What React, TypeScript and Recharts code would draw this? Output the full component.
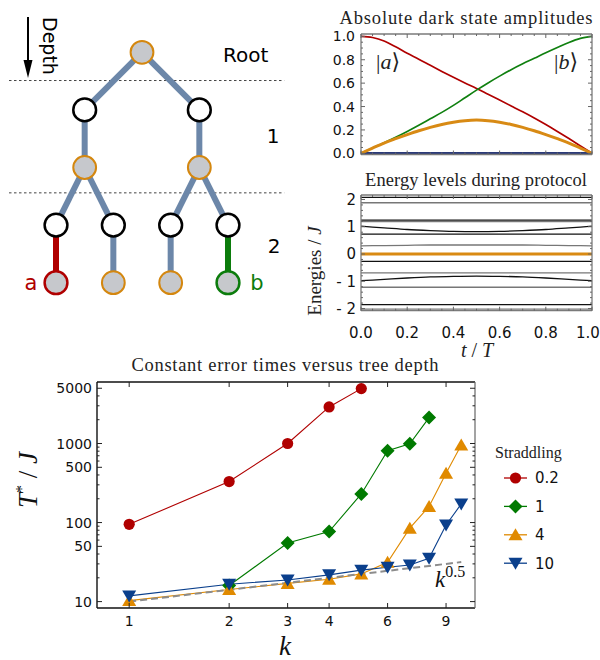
import React from 'react'
import { LineChart, Line, XAxis, YAxis, ScatterChart, Scatter, ReferenceLine } from 'recharts'

// ---------- bottom panel: constant error times vs depth ----------
const depthK = [1, 2, 3, 4, 5, 6, 7, 8, 9, 10]
const time02 = [95, 330, 1000, 2900, 4950, null, null, null, null, null]
const time1 = [null, 16, 55, 77, 230, 810, 990, 2130, null, null]
const time4 = [10.3, 14.2, 17, 19.2, 22.4, 31.5, 85, 160, 420, 960]
const time10 = [11.8, 16.6, 18.8, 21.8, 25, 27.2, 29, 35.4, 93, 172]
const sqrtGuide = [10, 14.1, 17.3, 20, 22.4, 24.5, 26.5, 28.3, 30, 31.6]

const straddleLabels = ['0.2', '1', '4', '10']
const straddleKeys = ['s02', 's1', 's4', 's10']
const straddleColors = ['#b00000', '#007a00', '#e08a00', '#0a3f8c']
const straddleMarkers = ['circle', 'diamond', 'up', 'down']

const kTicks = [1, 2, 3, 4, 6, 9]
const timeLabelTicks = [10, 50, 100, 500, 1000, 5000]
const timeMinorTicks = [20, 30, 40, 60, 70, 80, 90, 200, 300, 400, 600, 700, 800, 900, 2000, 3000, 4000]

// ---------- top right: dark state amplitudes ----------
const protocolT = [0, 0.05, 0.1, 0.15, 0.2, 0.25, 0.3, 0.35, 0.4, 0.45, 0.5, 0.55, 0.6, 0.65, 0.7, 0.75, 0.8, 0.85, 0.9, 0.95, 1]
const ampA = [1.0, 0.99, 0.96, 0.91, 0.855, 0.805, 0.752, 0.7, 0.65, 0.602, 0.555, 0.505, 0.455, 0.405, 0.355, 0.302, 0.246, 0.187, 0.126, 0.063, 0.0]
const ampB = [0, 0.045, 0.09, 0.137, 0.187, 0.24, 0.295, 0.35, 0.41, 0.475, 0.54, 0.602, 0.66, 0.715, 0.765, 0.812, 0.86, 0.905, 0.948, 0.982, 1.0]
const ampMid = [0, 0.045, 0.088, 0.125, 0.16, 0.193, 0.222, 0.247, 0.266, 0.279, 0.284, 0.279, 0.266, 0.247, 0.222, 0.193, 0.16, 0.125, 0.088, 0.045, 0]
const ampRest = [0, 0, 0, 0, 0, 0, 0, 0, 0, 0, 0, 0, 0, 0, 0, 0, 0, 0, 0, 0, 0]
const ampColors = ['#b00000', '#108010', '#d88a14', '#2b3a78']
const ampWidths = [1.7, 1.7, 3, 2.5]

const fineT = [0, 0.05, 0.1, 0.15, 0.2, 0.25, 0.3, 0.35, 0.4, 0.45, 0.5, 0.55, 0.6, 0.65, 0.7, 0.75, 0.8, 0.85, 0.9, 0.95, 1]
const tLabelTicks = [0, 0.2, 0.4, 0.6, 0.8, 1]
const ampTicks = [0, 0.05, 0.1, 0.15, 0.2, 0.25, 0.3, 0.35, 0.4, 0.45, 0.5, 0.55, 0.6, 0.65, 0.7, 0.75, 0.8, 0.85, 0.9, 0.95, 1]
const ampLabelTicks = [0, 0.2, 0.4, 0.6, 0.8, 1]

// ---------- top right: energy levels ----------
const energyT = [0, 0.1, 0.2, 0.3, 0.4, 0.5, 0.6, 0.7, 0.8, 0.9, 1]
const energyLevels = [
  [2.08, 2.08, 2.08, 2.08, 2.08, 2.08, 2.08, 2.08, 2.08, 2.08, 2.08],
  [1.88, 1.88, 1.88, 1.88, 1.88, 1.88, 1.88, 1.88, 1.88, 1.88, 1.88],
  [1.24, 1.24, 1.24, 1.24, 1.24, 1.24, 1.24, 1.24, 1.24, 1.24, 1.24],
  [1.19, 1.19, 1.19, 1.19, 1.19, 1.19, 1.19, 1.19, 1.19, 1.19, 1.19],
  [1.02, 0.96, 0.9, 0.86, 0.83, 0.82, 0.83, 0.86, 0.9, 0.96, 1.02],
  [0.73, 0.73, 0.73, 0.73, 0.73, 0.73, 0.73, 0.73, 0.73, 0.73, 0.73],
  [0.3, 0.31, 0.32, 0.33, 0.33, 0.33, 0.33, 0.33, 0.32, 0.31, 0.3],
  [-0.27, -0.27, -0.27, -0.27, -0.27, -0.27, -0.27, -0.27, -0.27, -0.27, -0.27],
  [-0.69, -0.69, -0.69, -0.69, -0.69, -0.69, -0.69, -0.69, -0.69, -0.69, -0.69],
  [-0.98, -0.93, -0.88, -0.84, -0.82, -0.81, -0.82, -0.84, -0.88, -0.93, -0.98],
  [-1.22, -1.22, -1.22, -1.22, -1.22, -1.22, -1.22, -1.22, -1.22, -1.22, -1.22],
  [-1.86, -1.86, -1.86, -1.86, -1.86, -1.86, -1.86, -1.86, -1.86, -1.86, -1.86],
  [-2.02, -2.02, -2.02, -2.02, -2.02, -2.02, -2.02, -2.02, -2.02, -2.02, -2.02],
]
const darkLevel = [0, 0, 0, 0, 0, 0, 0, 0, 0, 0, 0]
const levelColors = ['#111', '#777', '#111', '#777', '#111', '#111', '#777', '#111', '#777', '#111', '#777', '#111', '#777']
const energyTicks = [-2, -1.8, -1.6, -1.4, -1.2, -1, -0.8, -0.6, -0.4, -0.2, 0, 0.2, 0.4, 0.6, 0.8, 1, 1.2, 1.4, 1.6, 1.8, 2]
const energyLabelTicks = [-2, -1, 0, 1, 2]

// ---------- tree diagram ----------
const treeSlot = [1.5, 0.5, 2.5, 0.5, 2.5, 0, 1, 2, 3, 0, 1, 2, 3]
const treeLevel = [0, 1, 1, 2, 2, 3, 3, 3, 3, 4, 4, 4, 4]
const treeKind = ['hub', 'link', 'link', 'hub', 'hub', 'link', 'link', 'link', 'link', 'a', 'hub', 'hub', 'b']
const treeEdges = [[0, 1], [0, 2], [1, 3], [2, 4], [3, 5], [3, 6], [4, 7], [4, 8], [5, 9], [6, 10], [7, 11], [8, 12]]
const depthBreaks = [0.49, 2.44]

const nodeStyle: Record<string, { fill: string; stroke: string; w: number }> = {
  hub: { fill: '#c6c8cc', stroke: '#d4870f', w: 2 },
  link: { fill: '#ffffff', stroke: '#000000', w: 2.5 },
  a: { fill: '#c6c8cc', stroke: '#b00000', w: 2.5 },
  b: { fill: '#c6c8cc', stroke: '#0c7c0c', w: 2.5 },
}
const edgeColor: Record<string, string> = { hub: '#6c87a9', link: '#6c87a9', a: '#b00000', b: '#0c7c0c' }

const SERIF = '"Liberation Serif", "DejaVu Serif", serif'
const SANS = '"DejaVu Sans", sans-serif'

const mainRows = depthK.map((k, i) => ({
  k,
  s02: time02[i],
  s1: time1[i],
  s4: time4[i],
  s10: time10[i],
  guide: sqrtGuide[i],
}))
const ampRows = protocolT.map((t, i) => ({ t, a: ampA[i], b: ampB[i], m: ampMid[i], z: ampRest[i] }))
const energyRows = energyT.map((t, i) => {
  const row: any = { t, dark: darkLevel[i] }
  energyLevels.forEach((lv, j) => (row['e' + j] = lv[i]))
  return row
})
const treeNodes = treeSlot.map((slot, i) => ({ slot, level: treeLevel[i], kind: treeKind[i] }))

// tick drawn inward from the frame, label optional
const FrameTick = ({ x, y, payload, side, labels, major, fmt, color = '#222', fontSize = 14, gap = 5, len = 5, maxX }: any) => {
  const v = payload.value
  const l = major.includes(v) ? len : len * 0.5
  let x2 = x
  let y2 = y
  if (side === 'left') x2 = x + l
  if (side === 'right') x2 = x - l
  if (side === 'bottom') y2 = y - l
  if (side === 'top') y2 = y + l
  const show = labels.includes(v)
  const txt = fmt ? fmt(v) : String(v)
  const lx = maxX != null ? Math.min(x, maxX) : x
  return (
    <g>
      <line x1={x} y1={y} x2={x2} y2={y2} stroke={color} strokeWidth={1} />
      {show && side === 'left' && (
        <text x={x - gap} y={y} dy="0.36em" textAnchor="end" fontSize={fontSize} fontFamily={SANS} fill="#111">
          {txt}
        </text>
      )}
      {show && side === 'bottom' && (
        <text x={lx} y={y + gap} textAnchor="middle" fontSize={fontSize} fontFamily={SANS} fill="#111">
          {txt}
        </text>
      )}
    </g>
  )
}

const Marker = ({ shape, cx, cy, color }: any) => {
  if (cx == null || cy == null || isNaN(cx) || isNaN(cy)) return <g />
  if (shape === 'circle') return <circle cx={cx} cy={cy} r={5.6} fill={color} />
  if (shape === 'diamond')
    return <polygon points={`${cx},${cy - 7} ${cx + 7},${cy} ${cx},${cy + 7} ${cx - 7},${cy}`} fill={color} />
  if (shape === 'up')
    return <polygon points={`${cx},${cy - 6.5} ${cx + 7},${cy + 5.5} ${cx - 7},${cy + 5.5}`} fill={color} />
  return <polygon points={`${cx},${cy + 6.5} ${cx + 7},${cy - 5.5} ${cx - 7},${cy - 5.5}`} fill={color} />
}

const TreePanel = () => (
  <div style={{ position: 'absolute', left: 0, top: 0, width: 300, height: 300 }}>
    <ScatterChart width={300} height={300} margin={{ top: 0, right: 0, bottom: 0, left: 0 }}>
      <XAxis type="number" dataKey="slot" domain={[-0.977, 4.256]} hide allowDataOverflow />
      <YAxis type="number" dataKey="level" domain={[-0.908, 4.3]} reversed hide allowDataOverflow />
      {depthBreaks.map((b, i) => (
        <ReferenceLine
          key={'br' + i}
          segment={[{ x: -0.82, y: b }, { x: 3.98, y: b }]}
          stroke="#444"
          strokeDasharray="2.5 2.5"
          strokeWidth={1}
        />
      ))}
      {treeEdges.map(([p, c], i) => (
        <ReferenceLine
          key={'ed' + i}
          segment={[
            { x: treeSlot[p], y: treeLevel[p] },
            { x: treeSlot[c], y: treeLevel[c] },
          ]}
          stroke={edgeColor[treeKind[c]]}
          strokeWidth={6}
        />
      ))}
      <Scatter
        data={treeNodes}
        isAnimationActive={false}
        shape={(p: any) => {
          const s = nodeStyle[p.payload.kind]
          return <circle cx={p.cx} cy={p.cy} r={11.4} fill={s.fill} stroke={s.stroke} strokeWidth={s.w} />
        }}
      />
    </ScatterChart>
    <svg width={300} height={300} style={{ position: 'absolute', left: 0, top: 0, pointerEvents: 'none' }}>
      <line x1={28} y1={17} x2={28} y2={64} stroke="#000" strokeWidth={2} />
      <polygon points="23.5,60 32.5,60 28,78" fill="#000" />
      <text transform="translate(43,17) rotate(90)" fontSize={19} fontFamily={SANS} fill="#000">
        Depth
      </text>
      <text x={223} y={62} fontSize={20} fontFamily={SANS} fill="#000">
        Root
      </text>
      <text x={273} y={143} textAnchor="middle" fontSize={20} fontFamily={SANS} fill="#000">
        1
      </text>
      <text x={274} y={253} textAnchor="middle" fontSize={20} fontFamily={SANS} fill="#000">
        2
      </text>
      <text x={31} y={290} textAnchor="middle" fontSize={21} fontFamily={SANS} fill="#b00000">
        a
      </text>
      <text x={257} y={290} textAnchor="middle" fontSize={21} fontFamily={SANS} fill="#0c7c0c">
        b
      </text>
    </svg>
  </div>
)

const frameLine = { stroke: '#7a7a7a', strokeWidth: 1.3 }

const AmplitudePanel = () => (
  <div style={{ position: 'absolute', left: 300, top: 0, width: 300, height: 165 }}>
    <LineChart width={300} height={165} data={ampRows} margin={{ top: 33, right: 7, bottom: 9.5, left: 60 }}>
      <XAxis
        type="number"
        dataKey="t"
        domain={[0, 1]}
        ticks={fineT}
        interval={0}
        height={1}
        tickLine={false}
        tickSize={0}
        tickMargin={0}
        axisLine={frameLine}
        tick={(p: any) => <FrameTick {...p} side="bottom" labels={[]} major={tLabelTicks} color="#666" len={4} />}
      />
      <XAxis
        xAxisId="top"
        orientation="top"
        type="number"
        dataKey="t"
        domain={[0, 1]}
        ticks={fineT}
        interval={0}
        height={1}
        tickLine={false}
        tickSize={0}
        tickMargin={0}
        axisLine={frameLine}
        tick={(p: any) => <FrameTick {...p} side="top" labels={[]} major={tLabelTicks} color="#666" len={4} />}
      />
      <YAxis
        type="number"
        domain={[-0.01, 1.02]}
        allowDataOverflow
        ticks={ampTicks}
        interval={0}
        width={1}
        tickLine={false}
        tickSize={0}
        tickMargin={0}
        axisLine={frameLine}
        tick={(p: any) => (
          <FrameTick {...p} side="left" labels={ampLabelTicks} major={ampLabelTicks} fmt={(v: number) => v.toFixed(1)} color="#666" len={4} gap={6} />
        )}
      />
      <YAxis
        yAxisId="right"
        orientation="right"
        type="number"
        domain={[-0.01, 1.02]}
        allowDataOverflow
        ticks={ampTicks}
        interval={0}
        width={1}
        tickLine={false}
        tickSize={0}
        tickMargin={0}
        axisLine={frameLine}
        tick={(p: any) => <FrameTick {...p} side="right" labels={[]} major={ampLabelTicks} color="#666" len={4} />}
      />
      {['z', 'a', 'b', 'm'].map((key) => {
        const i = ['a', 'b', 'm', 'z'].indexOf(key)
        return (
          <Line
            key={key}
            dataKey={key}
            type="monotone"
            stroke={ampColors[i]}
            strokeWidth={ampWidths[i]}
            dot={false}
            isAnimationActive={false}
          />
        )
      })}
    </LineChart>
    <svg width={300} height={165} style={{ position: 'absolute', left: 0, top: 0, pointerEvents: 'none' }}>
      <text x={166} y={24} textAnchor="middle" fontSize={18.5} fontFamily={SERIF} fill="#222" textLength={253} lengthAdjust="spacing">
        Absolute dark state amplitudes
      </text>
      <text x={88} y={69} textAnchor="middle" fontSize={22} fontFamily={SERIF} fill="#222">
        |<tspan fontStyle="italic">a</tspan>⟩
      </text>
      <text x={266} y={69} textAnchor="middle" fontSize={22} fontFamily={SERIF} fill="#222">
        |<tspan fontStyle="italic">b</tspan>⟩
      </text>
    </svg>
  </div>
)

const energyFmt = (v: number) => (v < 0 ? `- ${-v}` : `${v}`)

const EnergyPanel = () => (
  <div style={{ position: 'absolute', left: 300, top: 165, width: 300, height: 195 }}>
    <LineChart width={300} height={195} data={energyRows} margin={{ top: 29, right: 7, bottom: 48.3, left: 60 }}>
      <XAxis
        type="number"
        dataKey="t"
        domain={[0, 1]}
        ticks={fineT}
        interval={0}
        height={1}
        tickLine={false}
        tickSize={0}
        tickMargin={0}
        axisLine={frameLine}
        tick={(p: any) => (
          <FrameTick
            {...p}
            side="bottom"
            labels={tLabelTicks}
            major={tLabelTicks}
            fmt={(v: number) => v.toFixed(1)}
            color="#666"
            len={4}
            gap={27}
            fontSize={15}
            maxX={288}
          />
        )}
      />
      <XAxis
        xAxisId="top"
        orientation="top"
        type="number"
        dataKey="t"
        domain={[0, 1]}
        ticks={fineT}
        interval={0}
        height={1}
        tickLine={false}
        tickSize={0}
        tickMargin={0}
        axisLine={frameLine}
        tick={(p: any) => <FrameTick {...p} side="top" labels={[]} major={tLabelTicks} color="#666" len={4} />}
      />
      <YAxis
        type="number"
        domain={[-2.08, 2.165]}
        allowDataOverflow
        ticks={energyTicks}
        interval={0}
        width={1}
        tickLine={false}
        tickSize={0}
        tickMargin={0}
        axisLine={frameLine}
        tick={(p: any) => (
          <FrameTick {...p} side="left" labels={energyLabelTicks} major={energyLabelTicks} fmt={energyFmt} color="#666" len={4} gap={5} fontSize={15} />
        )}
      />
      <YAxis
        yAxisId="right"
        orientation="right"
        type="number"
        domain={[-2.08, 2.165]}
        allowDataOverflow
        ticks={energyTicks}
        interval={0}
        width={1}
        tickLine={false}
        tickSize={0}
        tickMargin={0}
        axisLine={frameLine}
        tick={(p: any) => <FrameTick {...p} side="right" labels={[]} major={energyLabelTicks} color="#666" len={4} />}
      />
      {energyLevels.map((_, j) => (
        <Line
          key={'e' + j}
          dataKey={'e' + j}
          type="monotone"
          stroke={levelColors[j]}
          strokeWidth={1.3}
          dot={false}
          isAnimationActive={false}
        />
      ))}
      <Line dataKey="dark" stroke="#d98a12" strokeWidth={3} dot={false} isAnimationActive={false} />
    </LineChart>
    <svg width={300} height={195} style={{ position: 'absolute', left: 0, top: 0, pointerEvents: 'none' }}>
      <text x={176} y={21} textAnchor="middle" fontSize={18.5} fontFamily={SERIF} fill="#222" textLength={222} lengthAdjust="spacing">
        Energy levels during protocol
      </text>
      <text transform="translate(21,106) rotate(-90)" textAnchor="middle" fontSize={19} fontFamily={SERIF} fill="#222">
        Energies / <tspan fontStyle="italic">J</tspan>
      </text>
      <text x={177} y={192} textAnchor="middle" fontSize={20} fontFamily={SERIF} fontStyle="italic" fill="#222">
        t<tspan fontStyle="normal"> / </tspan>T
      </text>
    </svg>
  </div>
)

const MainPanel = () => {
  const yTicks = [...timeLabelTicks, ...timeMinorTicks].sort((a, b) => a - b)
  return (
    <div style={{ position: 'absolute', left: 0, top: 350, width: 600, height: 310 }}>
      <LineChart width={600} height={310} data={mainRows} margin={{ top: 31, right: 124, bottom: 51, left: 96 }}>
        <XAxis
          type="number"
          dataKey="k"
          scale="log"
          domain={[0.8, 11]}
          allowDataOverflow
          ticks={kTicks}
          interval={0}
          height={1}
          tickLine={false}
          tickSize={0}
          tickMargin={0}
          axisLine={{ stroke: '#111', strokeWidth: 1.4 }}
          tick={(p: any) => <FrameTick {...p} side="bottom" labels={kTicks} major={kTicks} gap={18} />}
        />
        <XAxis
          xAxisId="top"
          orientation="top"
          type="number"
          dataKey="k"
          scale="log"
          domain={[0.8, 11]}
          allowDataOverflow
          ticks={kTicks}
          interval={0}
          height={1}
          tickLine={false}
          tickSize={0}
          tickMargin={0}
          axisLine={{ stroke: '#111', strokeWidth: 1.4 }}
          tick={(p: any) => <FrameTick {...p} side="top" labels={[]} major={kTicks} />}
        />
        <YAxis
          type="number"
          scale="log"
          domain={[8.3, 6000]}
          allowDataOverflow
          ticks={yTicks}
          interval={0}
          width={1}
          tickLine={false}
          tickSize={0}
          tickMargin={0}
          axisLine={{ stroke: '#111', strokeWidth: 1.4 }}
          tick={(p: any) => <FrameTick {...p} side="left" labels={timeLabelTicks} major={timeLabelTicks} gap={5} />}
        />
        <YAxis
          yAxisId="right"
          orientation="right"
          type="number"
          scale="log"
          domain={[8.3, 6000]}
          allowDataOverflow
          ticks={yTicks}
          interval={0}
          width={1}
          tickLine={false}
          tickSize={0}
          tickMargin={0}
          axisLine={{ stroke: '#666', strokeWidth: 1.2 }}
          tick={(p: any) => <FrameTick {...p} side="right" labels={[]} major={timeLabelTicks} />}
        />
        {straddleKeys.slice(0, 3).map((key, i) => (
          <Line
            key={key}
            dataKey={key}
            stroke={straddleColors[i]}
            strokeWidth={1.1}
            isAnimationActive={false}
            dot={(p: any) => <Marker key={key + p.index} shape={straddleMarkers[i]} cx={p.cx} cy={p.cy} color={straddleColors[i]} />}
          />
        ))}
        <Line
          dataKey="guide"
          stroke="#8c8c8c"
          strokeWidth={2}
          strokeDasharray="7 4"
          dot={false}
          isAnimationActive={false}
        />
        <Line
          dataKey="s10"
          stroke={straddleColors[3]}
          strokeWidth={1.1}
          isAnimationActive={false}
          dot={(p: any) => <Marker key={'s10' + p.index} shape={straddleMarkers[3]} cx={p.cx} cy={p.cy} color={straddleColors[3]} />}
        />
      </LineChart>
      <svg width={600} height={310} style={{ position: 'absolute', left: 0, top: 0, pointerEvents: 'none' }}>
        <text x={285} y={21} textAnchor="middle" fontSize={18.5} fontFamily={SERIF} fill="#222" textLength={307} lengthAdjust="spacing">
          Constant error times versus tree depth
        </text>
        <text transform="translate(37,130) rotate(-90)" textAnchor="middle" fontSize={27} fontFamily={SERIF} fill="#111">
          <tspan fontStyle="italic">T</tspan>
          <tspan fontSize={16} dy={-10}>*</tspan>
          <tspan dy={10}> / </tspan>
          <tspan fontStyle="italic">J</tspan>
        </text>
        <text x={285} y={305} textAnchor="middle" fontSize={27} fontFamily={SERIF} fontStyle="italic" fill="#111">
          k
        </text>
        <text x={435} y={237} fontSize={23} fontFamily={SERIF} fontStyle="italic" fill="#111">
          k<tspan fontStyle="normal" fontSize={16} dy={-10}>0.5</tspan>
        </text>
        <text x={495} y={108} fontSize={16} fontFamily={SERIF} fill="#222">
          Straddling
        </text>
        {straddleLabels.map((lab, i) => {
          const cy = 128 + i * 28.4
          return (
            <g key={lab}>
              <line x1={504} y1={cy} x2={527} y2={cy} stroke={straddleColors[i]} strokeWidth={1.3} />
              <Marker shape={straddleMarkers[i]} cx={515.5} cy={cy} color={straddleColors[i]} />
              <text x={535} y={cy} dy="0.36em" fontSize={15} fontFamily={SANS} fill="#111">
                {lab}
              </text>
            </g>
          )
        })}
      </svg>
    </div>
  )
}

export default function App() {
  return (
    <div style={{ position: 'absolute', left: 0, top: 0, width: 600, height: 660, background: '#fff', overflow: 'hidden' }}>
      <TreePanel />
      <AmplitudePanel />
      <EnergyPanel />
      <MainPanel />
    </div>
  )
}
